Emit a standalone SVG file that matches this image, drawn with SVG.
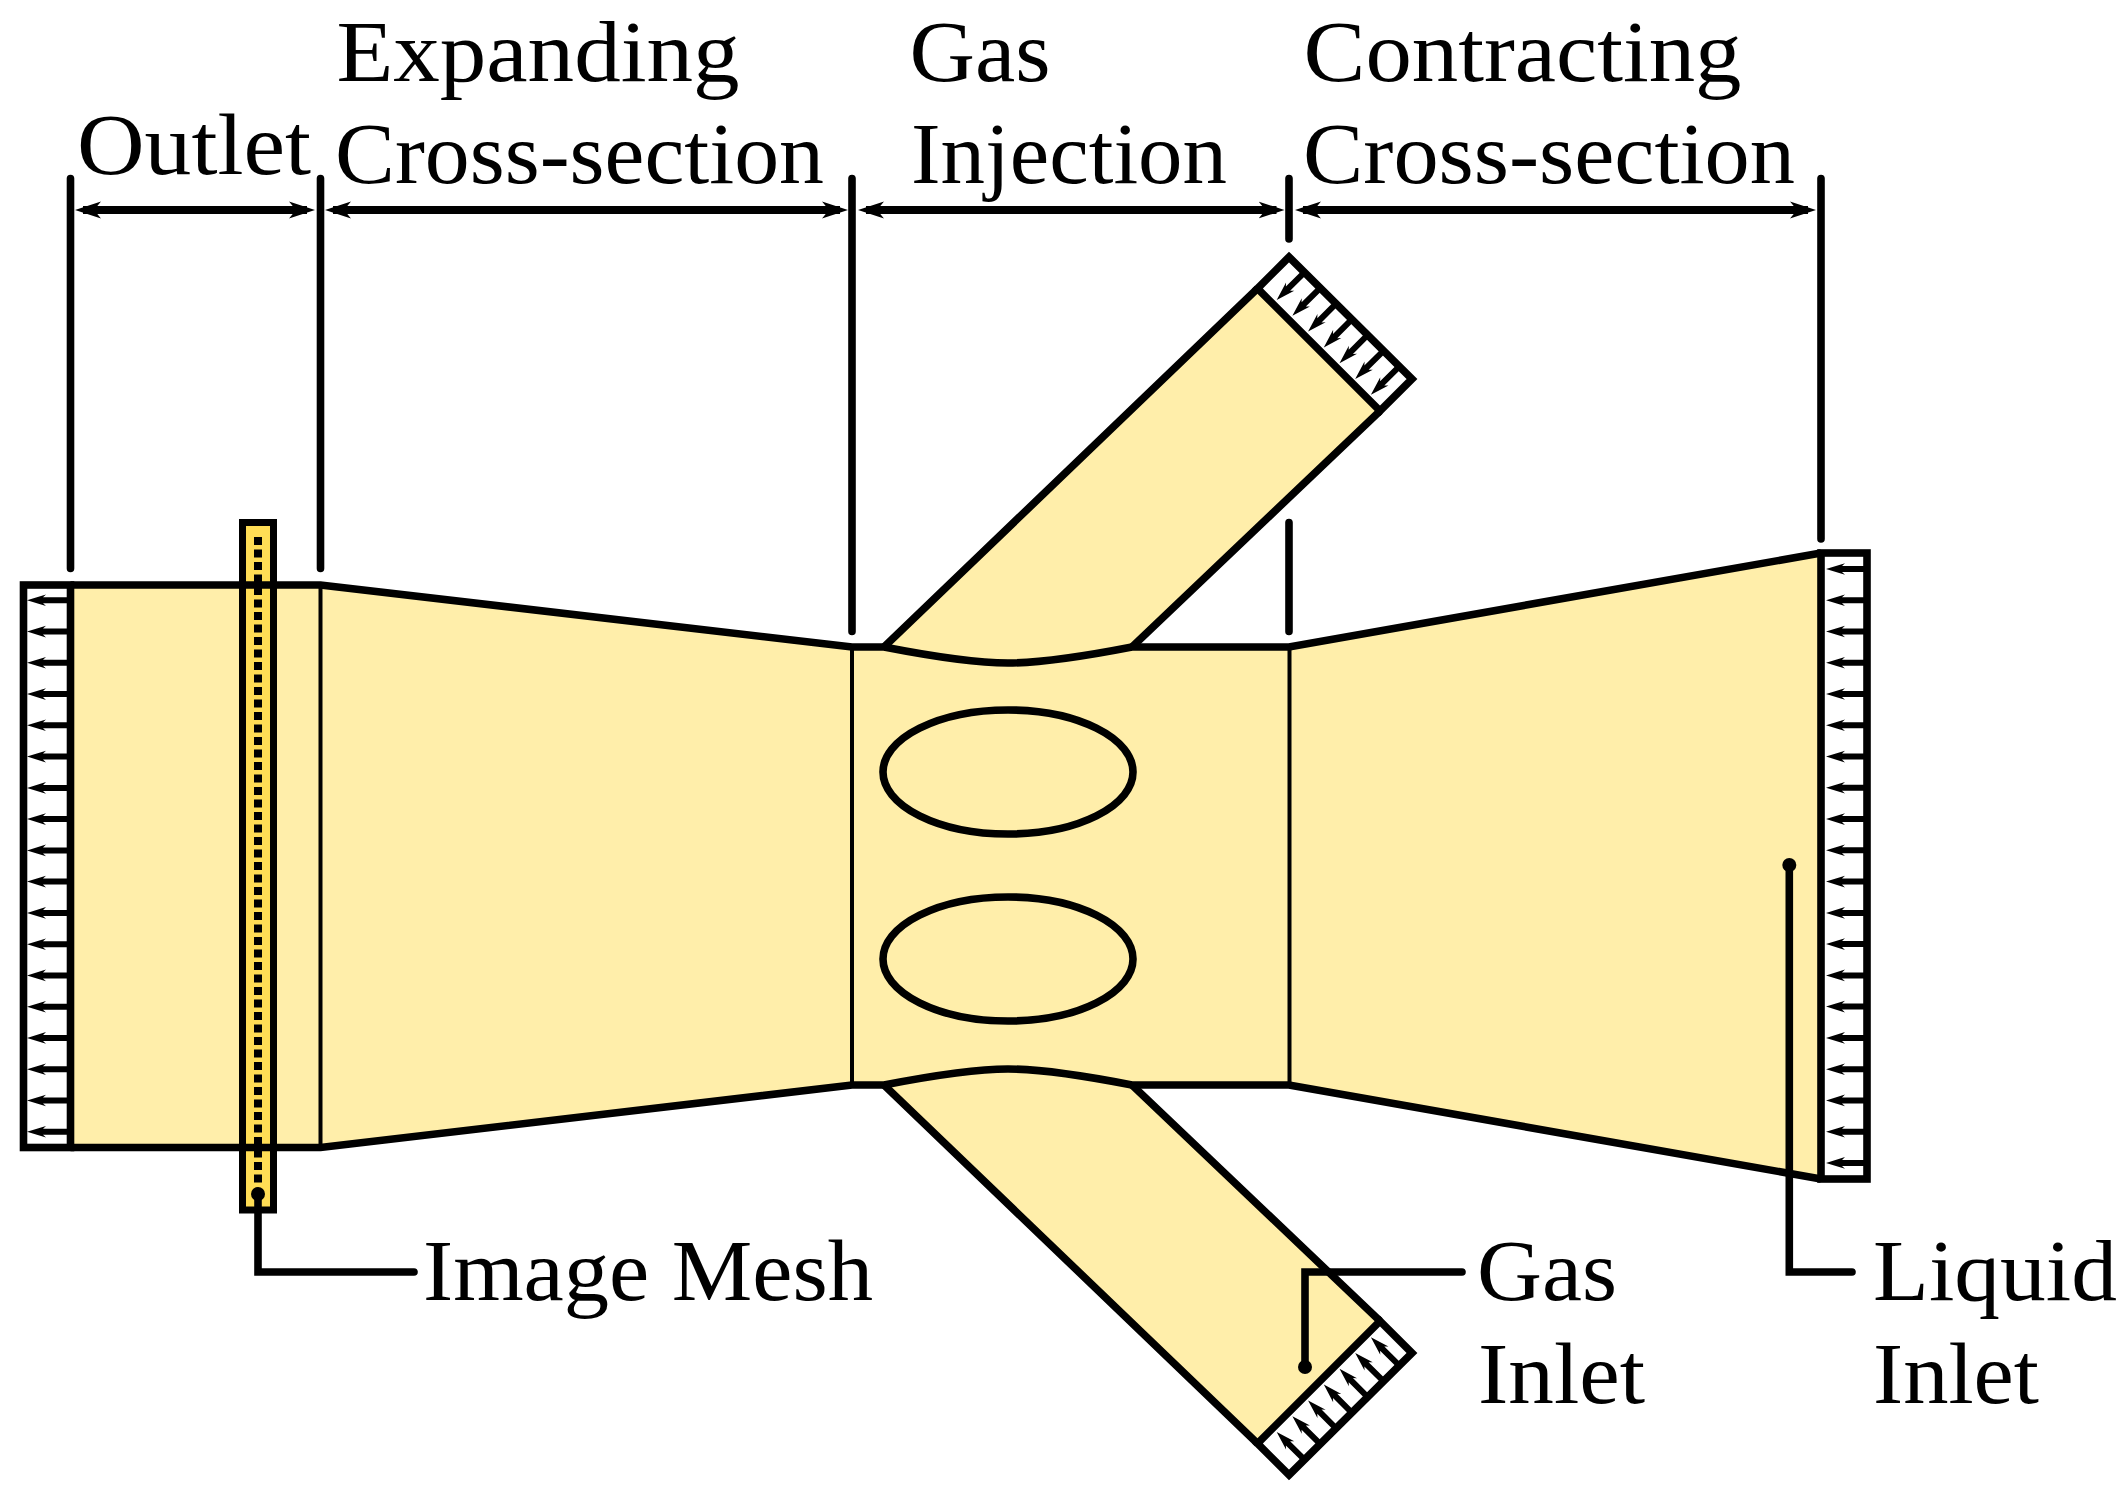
<svg xmlns="http://www.w3.org/2000/svg" xmlns:xlink="http://www.w3.org/1999/xlink" width="2126" height="1494" viewBox="0 0 2126 1494">
<style>
.t{font-family:"Liberation Serif","Times New Roman",serif;font-size:87px;fill:#000}
.o{fill:none;stroke:#000;stroke-width:7.6;stroke-linejoin:miter}
.w{fill:#fff;stroke:#000;stroke-width:7.6;stroke-linejoin:miter}
.thin{fill:none;stroke:#000;stroke-width:4}
.tick{fill:none;stroke:#000;stroke-width:7.6;stroke-linecap:round}
.dim{fill:none;stroke:#000;stroke-width:8;marker-start:url(#h);marker-end:url(#h)}
.lead{fill:none;stroke:#000;stroke-width:7.6;stroke-linecap:round;stroke-linejoin:miter}
</style>
<defs>
<marker id="h" markerUnits="userSpaceOnUse" markerWidth="28" markerHeight="18" refX="18" refY="9" orient="auto-start-reverse" viewBox="0 0 28 18"><path d="M26,9 L0,0.5 L7,9 L0,17.5 Z" fill="#000"/></marker>
<path id="a" d="M0,0 L19,-5.8 L16,-3 H41 V3 H16 L19,5.8 Z" fill="#000"/>
<g id="gas-inlet">
<polygon class="w" points="1289,257 1412,379 1380,411 1257.5,288.5"/>
<use href="#a" transform="translate(1276.7,300) rotate(-45)"/>
<use href="#a" transform="translate(1292.4,315.8) rotate(-45)"/>
<use href="#a" transform="translate(1308.1,331.6) rotate(-45)"/>
<use href="#a" transform="translate(1323.8,347.4) rotate(-45)"/>
<use href="#a" transform="translate(1339.5,363.2) rotate(-45)"/>
<use href="#a" transform="translate(1355.2,379) rotate(-45)"/>
<use href="#a" transform="translate(1370.9,394.8) rotate(-45)"/>
</g>
</defs>
<rect width="2126" height="1494" fill="#fff"/>
<g id="channel">
<path fill="#ffeeaa" d="M70.5,585 H320.5 L852,647 H884 L1257.5,288.5 L1380,411 L1132,647 H1289 L1821,553 V1179 L1289,1085 H1132 L1380,1321 L1257.5,1443.5 L884,1085 H852 L320.5,1147.5 H70.5 Z"/>
<path class="thin" d="M320.5,585 V1147.5 M852,647 V1085 M1289.5,647 V1085"/>
</g>
<g id="image-mesh">
<rect x="242.5" y="522.5" width="31" height="687.5" fill="#ffdd55" stroke="#000" stroke-width="7"/>
<line x1="258" y1="537" x2="258" y2="1186" stroke="#000" stroke-width="8" stroke-dasharray="8 4.5"/>
</g>
<g id="channel-outline">
<path class="o" d="M70.5,585 H320.5 L852,647 H884 C920,654 970,663 1008,663 C1046,663 1096,654 1132,647 H1289 L1821,553"/>
<path class="o" d="M70.5,1147.5 H320.5 L852,1085 H884 C920,1078 970,1069 1008,1069 C1046,1069 1096,1078 1132,1085 H1289 L1821,1179"/>
<path class="o" d="M884,647 L1257.5,288.5 M1132,647 L1380,411 M884,1085 L1257.5,1443.5 M1132,1085 L1380,1321"/>
</g>
<g id="bubble-top"><ellipse class="o" cx="1008" cy="772" rx="125" ry="62"/></g>
<g id="bubble-bottom"><ellipse class="o" cx="1008" cy="959" rx="125" ry="62"/></g>
<g id="outlet-boundary">
<rect class="w" x="23.5" y="585" width="47" height="562.5"/>
<use href="#a" transform="translate(27,600.3)"/><use href="#a" transform="translate(27,631.6)"/><use href="#a" transform="translate(27,662.8)"/><use href="#a" transform="translate(27,694.1)"/><use href="#a" transform="translate(27,725.3)"/><use href="#a" transform="translate(27,756.6)"/><use href="#a" transform="translate(27,787.9)"/><use href="#a" transform="translate(27,819.1)"/><use href="#a" transform="translate(27,850.4)"/><use href="#a" transform="translate(27,881.6)"/><use href="#a" transform="translate(27,912.9)"/><use href="#a" transform="translate(27,944.2)"/><use href="#a" transform="translate(27,975.4)"/><use href="#a" transform="translate(27,1006.7)"/><use href="#a" transform="translate(27,1037.9)"/><use href="#a" transform="translate(27,1069.2)"/><use href="#a" transform="translate(27,1100.5)"/><use href="#a" transform="translate(27,1131.7)"/>
</g>
<g id="liquid-inlet-boundary">
<rect class="w" x="1821" y="553" width="46" height="626"/>
<use href="#a" transform="translate(1826,569)"/><use href="#a" transform="translate(1826,600.3)"/><use href="#a" transform="translate(1826,631.5)"/><use href="#a" transform="translate(1826,662.8)"/><use href="#a" transform="translate(1826,694)"/><use href="#a" transform="translate(1826,725.3)"/><use href="#a" transform="translate(1826,756.6)"/><use href="#a" transform="translate(1826,787.8)"/><use href="#a" transform="translate(1826,819.1)"/><use href="#a" transform="translate(1826,850.3)"/><use href="#a" transform="translate(1826,881.6)"/><use href="#a" transform="translate(1826,912.9)"/><use href="#a" transform="translate(1826,944.1)"/><use href="#a" transform="translate(1826,975.4)"/><use href="#a" transform="translate(1826,1006.6)"/><use href="#a" transform="translate(1826,1037.9)"/><use href="#a" transform="translate(1826,1069.2)"/><use href="#a" transform="translate(1826,1100.4)"/><use href="#a" transform="translate(1826,1131.7)"/><use href="#a" transform="translate(1826,1162.9)"/>
</g>
<g id="gas-inlet-top"><use href="#gas-inlet"/></g>
<g id="gas-inlet-bottom"><use href="#gas-inlet" transform="translate(0,1732) scale(1,-1)"/></g>
<g id="connectors">
<path class="tick" d="M70.5,178.5 V568.5 M320.5,178.5 V568.5 M852,178.5 V631.5 M1289,178.5 V239 M1289,522.5 V631.5 M1821,178.5 V539"/>
<line class="dim" x1="83" y1="210" x2="307" y2="210"/>
<line class="dim" x1="333" y1="210" x2="840" y2="210"/>
<line class="dim" x1="866" y1="210" x2="1276.5" y2="210"/>
<line class="dim" x1="1303" y1="210" x2="1808" y2="210"/>
<path class="lead" d="M258,1194 V1272 H414"/>
<circle cx="258" cy="1194" r="7"/>
<path class="lead" d="M1305,1367 V1272 H1462"/>
<circle cx="1305" cy="1367" r="7"/>
<path class="lead" d="M1789.3,865 V1272 H1852"/>
<circle cx="1789.3" cy="865" r="7"/>
</g>
<g id="labels">
<text class="t" x="77" y="173.5" textLength="234" lengthAdjust="spacingAndGlyphs">Outlet</text>
<text class="t" x="336.5" y="81" textLength="403" lengthAdjust="spacingAndGlyphs">Expanding</text>
<text class="t" x="335" y="183" textLength="489" lengthAdjust="spacingAndGlyphs">Cross-section</text>
<text class="t" x="909.5" y="81" textLength="141" lengthAdjust="spacingAndGlyphs">Gas</text>
<text class="t" x="911" y="183" textLength="316" lengthAdjust="spacingAndGlyphs">Injection</text>
<text class="t" x="1303.5" y="81" textLength="438" lengthAdjust="spacingAndGlyphs">Contracting</text>
<text class="t" x="1303" y="183" textLength="492" lengthAdjust="spacingAndGlyphs">Cross-section</text>
<text class="t" x="423" y="1300" textLength="450" lengthAdjust="spacingAndGlyphs">Image Mesh</text>
<text class="t" x="1477" y="1300" textLength="140" lengthAdjust="spacingAndGlyphs">Gas</text>
<text class="t" x="1478" y="1402.5" textLength="167" lengthAdjust="spacingAndGlyphs">Inlet</text>
<text class="t" x="1873" y="1300" textLength="244" lengthAdjust="spacingAndGlyphs">Liquid</text>
<text class="t" x="1873" y="1402.5" textLength="166" lengthAdjust="spacingAndGlyphs">Inlet</text>
</g>
</svg>
